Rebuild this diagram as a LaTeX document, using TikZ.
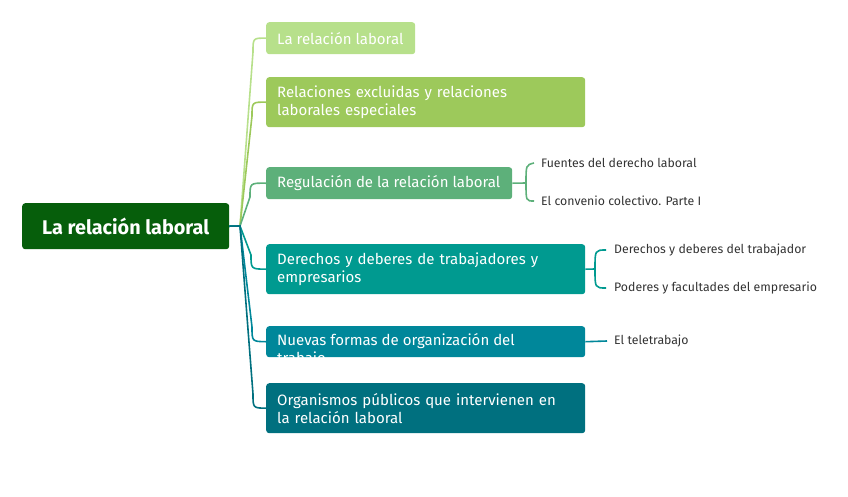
\documentclass[tikz,border=0pt]{standalone}
\usepackage{fontspec}
\setmainfont{Fira Sans}
\definecolor{croot}{HTML}{065E0B}
\definecolor{cA}{HTML}{B7E08B}
\definecolor{cB}{HTML}{9DC95B}
\definecolor{cC}{HTML}{5DB07A}
\definecolor{cD}{HTML}{009A90}
\definecolor{cE}{HTML}{00879A}
\definecolor{cF}{HTML}{00707F}
\definecolor{ctext}{HTML}{333333}
\begin{document}
\begin{tikzpicture}[x=1pt,y=-1pt,
  box/.style={rounded corners=3pt, inner xsep=11pt, inner ysep=0pt, anchor=north west,
    text=white, font=\fontsize{15}{18}\selectfont, align=left},
  sub/.style={anchor=west, text=ctext, font=\fontsize{12.3}{14}\selectfont, inner sep=0pt},
  conn/.style={line width=1.6pt},
  brace/.style={line width=1.6pt},
]
\useasboundingbox (0,0) rectangle (848,496);

\node[fill=croot, rounded corners=3pt, minimum width=207pt, minimum height=46pt, inner sep=0pt,
  anchor=north west, text=white, font=\bfseries\fontsize{19.8}{22}\selectfont] (root) at (22,203) {La relación laboral};

\node[box, fill=cA, minimum height=32pt] (b1) at (266,22) {\makebox[127pt][l]{La relación laboral}};
\node[box, fill=cB, minimum width=319pt, text width=297pt, minimum height=50pt] (b2) at (266,77) {Relaciones excluidas y relaciones\\laborales especiales};
\node[box, fill=cC, minimum height=32pt] (b3) at (266,167) {\makebox[224pt][l]{Regulación de la relación laboral}};
\node[box, fill=cD, minimum width=319pt, text width=297pt, minimum height=50pt] (b4) at (266,244) {Derechos y deberes de trabajadores y\\empresarios};
\node[box, fill=cE, minimum width=319pt, minimum height=31pt] (b5) at (266,326) {};
\begin{scope}
  \clip[rounded corners=3pt] (266,326) rectangle (585,357);
  \node[anchor=north west, inner sep=0pt, text=white, font=\fontsize{15}{18}\selectfont, align=left] (b5t) at (277,333) {Nuevas formas de organización del\\trabajo};
\end{scope}
\node[box, fill=cF, minimum width=319pt, text width=297pt, minimum height=50pt] (b6) at (266,383) {Organismos públicos que intervienen en\\la relación laboral};

\coordinate (hub) at (240,226);
\draw[conn, cA] (root.east) -- (hub) -- (253,52) .. controls (253,38) .. (b1.west);
\draw[conn, cB] (root.east) -- (hub) -- (252,116) .. controls (252,102) .. (b2.west);
\draw[conn, cC] (root.east) -- (hub) -- (250,197) .. controls (250,183) .. (b3.west);
\draw[conn, cD] (root.east) -- (hub) -- (251,255) .. controls (251,269) .. (b4.west);
\draw[conn, cE] (root.east) -- (hub) -- (252,327) .. controls (252,341.5) .. (b5.west);
\draw[conn, cF] (root.east) -- (hub) -- (253,394) .. controls (253,408) .. (b6.west);

\node[sub] (s1) at (541,163) {Fuentes del derecho laboral};
\node[sub] (s2) at (541,201) {El convenio colectivo. Parte I};
\node[sub] (s3) at (614,250) {Derechos y deberes del trabajador};
\node[sub] (s4) at (614,288) {Poderes y facultades del empresario};
\node[sub] (s5) at (614,341) {El teletrabajo};

\coordinate (j3) at (526,183);
\draw[brace, cC] (b3.east) -- (j3);
\draw[brace, cC] (j3) .. controls (526,165) .. ([xshift=-7pt]s1.west);
\draw[brace, cC] (j3) .. controls (526,201) .. ([xshift=-7pt]s2.west);
\coordinate (j4) at (595,269);
\draw[brace, cD] (b4.east) -- (j4);
\draw[brace, cD] (j4) .. controls (595,250) .. ([xshift=-8pt]s3.west);
\draw[brace, cD] (j4) .. controls (595,288) .. ([xshift=-8pt]s4.west);
\draw[brace, cE] (b5.east) -- ([xshift=-7pt]s5.west);
\end{tikzpicture}
\end{document}
